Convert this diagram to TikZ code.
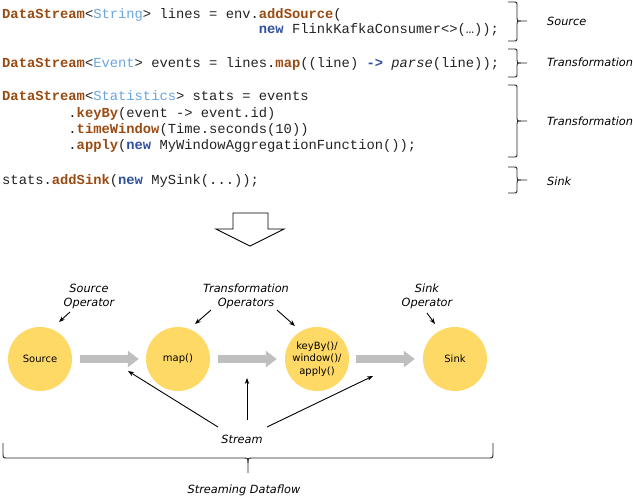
\documentclass[tikz,border=0pt]{standalone}
\usepackage{fontspec}
\setmainfont{DejaVu Sans}
\newfontfamily\codefont{Liberation Mono}
\usetikzlibrary{arrows.meta}
\definecolor{kwbrown}{HTML}{9A4B12}
\definecolor{tyblue}{HTML}{6AA5DE}
\definecolor{nwblue}{HTML}{2F4F9F}
\definecolor{codeink}{HTML}{222222}
\definecolor{opfill}{HTML}{FFD966}
\definecolor{flowgray}{HTML}{BFBFBF}
\newcommand\kw[1]{\textcolor{kwbrown}{\bfseries #1}}
\newcommand\ty[1]{\textcolor{tyblue}{#1}}
\newcommand\nw[1]{\textcolor{nwblue}{\bfseries #1}}
\newcommand\codebrace[3]{%
  \draw[bracestyle] (508,#1) -- (513,#1) .. controls (517,#1) .. (517,#1+4) -- (517,#3-3)
    .. controls (517,#3) .. (521,#3) -- (527,#3);
  \draw[bracestyle] (508,#2) -- (513,#2) .. controls (517,#2) .. (517,#2-4) -- (517,#3+3)
    .. controls (517,#3) .. (521,#3);}
\begin{document}
\begin{tikzpicture}[x=1pt,y=-1pt,
  codeline/.style={anchor=base west,inner sep=0pt,text=codeink,
    font=\codefont\fontsize{13.8}{15}\selectfont},
  sidelabel/.style={anchor=west,inner sep=0pt,font=\itshape\fontsize{11.3}{14}\selectfont},
  oplabel/.style={align=center,inner sep=0pt,font=\itshape\fontsize{11.3}{14}\selectfont},
  bracestyle/.style={line width=0.9pt,color=black!85},
  opnode/.style={circle,fill=opfill,minimum size=64pt,inner sep=0pt,align=center,
    font=\fontsize{10}{12.5}\selectfont},
  flow/.style={line width=8pt,color=flowgray,-{Triangle[length=11pt,width=16pt]}},
  ptr/.style={line width=0.9pt,-{Stealth[length=6pt,width=4.5pt]}},
  plainline/.style={line width=0.9pt}]
\useasboundingbox (0,0) rectangle (633,496);

% code
\node[codeline] (l1) at (2,18.5) {\kw{DataStream}<\ty{String}> lines = env.\kw{addSource}(};
\node[codeline] (l2) at (2+31*8.28,33.5) {\nw{new} FlinkKafkaConsumer<>(…));};
\node[codeline] (l3) at (2,67.5) {\kw{DataStream}<\ty{Event}> events = lines.\kw{map}((line) \nw{->} \textit{parse}(line));};
\node[codeline] (l4) at (2,100.5) {\kw{DataStream}<\ty{Statistics}> stats = events};
\node[codeline] (l5) at (2+8*8.28,117) {.\kw{keyBy}(event -> event.id)};
\node[codeline] (l6) at (2+8*8.28,133) {.\kw{timeWindow}(Time.seconds(10))};
\node[codeline] (l7) at (2+8*8.28,149) {.\kw{apply}(\nw{new} MyWindowAggregationFunction());};
\node[codeline] (l8) at (2,184.5) {stats.\kw{addSink}(\nw{new} MySink(...));};

% braces and labels
\codebrace{2}{41}{21}
\codebrace{49}{77}{63}
\codebrace{85}{157}{121}
\codebrace{167}{193}{180}
\node[sidelabel] (lsrc) at (547,21) {Source};
\node[sidelabel] (ltr1) at (547,62) {Transformation};
\node[sidelabel] (ltr2) at (547,121) {Transformation};
\node[sidelabel] (lsink) at (547,181) {Sink};

% big arrow
\draw[line width=0.9pt,line join=miter] (233,213) -- (268,213) -- (268,229) -- (284,229)
  -- (250,246) -- (216,229) -- (233,229) -- cycle;

% operators
\node[opnode] (src) at (40,359) {Source};
\node[opnode] (map) at (178,359) {map()};
\node[opnode] (kb) at (317,359) {keyBy()/\\window()/\\apply()};
\node[opnode] (sink) at (455,359) {Sink};

\draw[flow,shorten <=8pt,shorten >=7pt] (src) -- (map);
\draw[flow,shorten <=8pt,shorten >=8pt] (map) -- (kb);
\draw[flow,shorten <=7pt,shorten >=8pt] (kb) -- (sink);

% operator labels
\node[oplabel] (srcop) at (89,296) {Source\\Operator};
\node[oplabel] (trop) at (246,296) {Transformation\\Operators};
\node[oplabel] (sinkop) at (427,296) {Sink\\Operator};
\coordinate (a1s) at (70,312); \coordinate (a1e) at (59,322);
\coordinate (a2s) at (211,310); \coordinate (a2e) at (195,324);
\coordinate (a3s) at (277,310); \coordinate (a3e) at (295,326);
\coordinate (a4s) at (427,313); \coordinate (a4e) at (435,324);
\draw[ptr] (a1s) -- (a1e);
\draw[ptr] (a2s) -- (a2e);
\draw[ptr] (a3s) -- (a3e);
\draw[ptr] (a4s) -- (a4e);

% stream
\node[oplabel] (stream) at (242,439) {Stream};
\coordinate (s1s) at (218,427); \coordinate (s1e) at (128,371);
\coordinate (s2s) at (247,420); \coordinate (s2e) at (247,378);
\coordinate (s3s) at (267,427); \coordinate (s3e) at (373,376);
\draw[ptr] (s1s) -- (s1e);
\draw[ptr] (s2s) -- (s2e);
\draw[ptr] (s3s) -- (s3e);

% bottom brace
\draw[bracestyle] (3,443) -- (3,453) .. controls (3,458) .. (8,458) -- (243,458)
  .. controls (248,458) .. (248,463) -- (248,473);
\draw[bracestyle] (248,463) .. controls (248,458) .. (253,458) -- (488,458)
  .. controls (493,458) .. (493,453) -- (493,443);
\node[oplabel] (dataflow) at (244,490) {Streaming Dataflow};
\end{tikzpicture}
\end{document}
